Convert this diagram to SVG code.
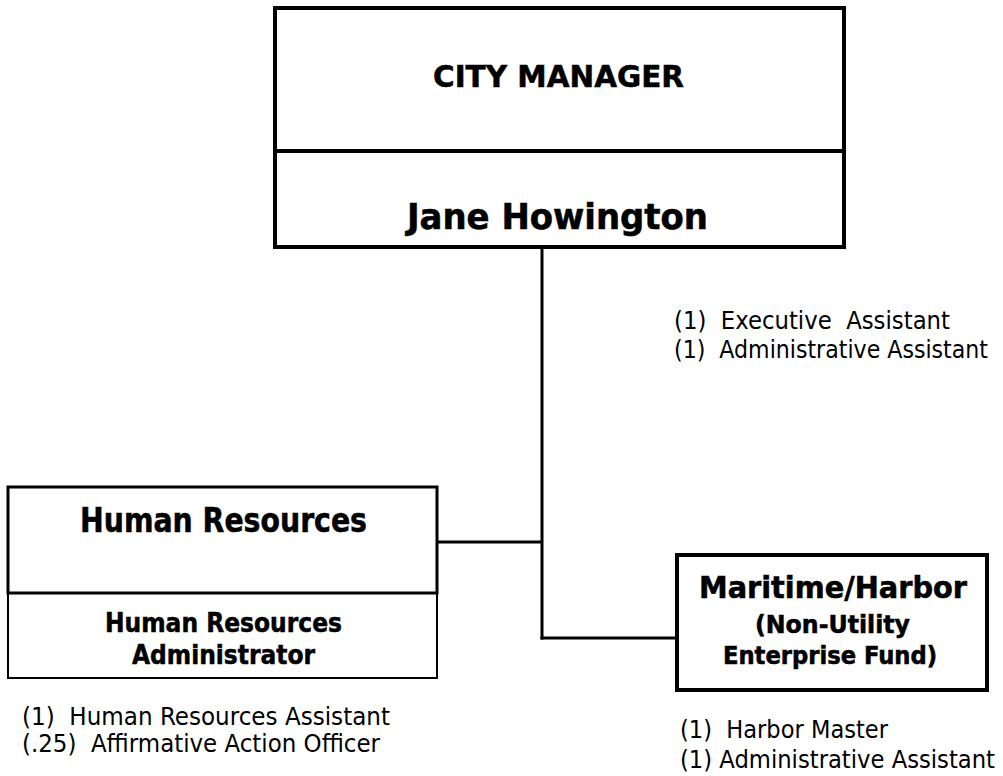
<svg xmlns="http://www.w3.org/2000/svg" width="1003" height="776" viewBox="0 0 1003 776">
<style>
  .box { fill: #fff; stroke: #000; }
  .b { font-family: "DejaVu Sans Condensed", "DejaVu Sans", "Liberation Sans", sans-serif; font-weight: bold; fill: #000; stroke: #000; stroke-width: 0.5; }
  .r { font-family: "DejaVu Sans Condensed", "DejaVu Sans", "Liberation Sans", sans-serif; font-weight: normal; fill: #000; font-size: 25px; white-space: pre; }
  .conn { stroke: #000; stroke-width: 3; fill: none; }
</style>
<rect x="0" y="0" width="1003" height="776" fill="#fff"/>
<g id="connectors">
  <line class="conn" x1="542" y1="247" x2="542" y2="639.5"/>
  <line class="conn" x1="437" y1="542" x2="542" y2="542"/>
  <line class="conn" x1="540.5" y1="638" x2="677" y2="638"/>
</g>
<g id="city-manager">
  <rect class="box" x="275" y="8" width="569" height="239" stroke-width="4"/>
  <line x1="275" y1="151" x2="844" y2="151" stroke="#000" stroke-width="4"/>
  <text class="b" x="433" y="87" font-size="31" textLength="251" lengthAdjust="spacingAndGlyphs">CITY MANAGER</text>
  <text class="b" x="407" y="229" font-size="35" textLength="301" lengthAdjust="spacingAndGlyphs">Jane Howington</text>
</g>
<g id="city-manager-staff">
  <text class="r" xml:space="preserve" x="674" y="329" textLength="276" lengthAdjust="spacingAndGlyphs">(1)  Executive  Assistant</text>
  <text class="r" xml:space="preserve" x="674" y="358" textLength="314" lengthAdjust="spacingAndGlyphs">(1)  Administrative Assistant</text>
</g>
<g id="human-resources">
  <rect class="box" x="8" y="487" width="429" height="191" stroke-width="2"/>
  <rect class="box" x="8" y="487" width="429" height="106" stroke-width="3" fill="none"/>
  <text class="b" x="80" y="532" font-size="34" textLength="287" lengthAdjust="spacingAndGlyphs">Human Resources</text>
  <text class="b" x="105" y="632" font-size="27" textLength="237" lengthAdjust="spacingAndGlyphs">Human Resources</text>
  <text class="b" x="132" y="664" font-size="27" textLength="183" lengthAdjust="spacingAndGlyphs">Administrator</text>
</g>
<g id="human-resources-staff">
  <text class="r" xml:space="preserve" x="22" y="725" textLength="368" lengthAdjust="spacingAndGlyphs">(1)  Human Resources Assistant</text>
  <text class="r" xml:space="preserve" x="22" y="752" textLength="358" lengthAdjust="spacingAndGlyphs">(.25)  Affirmative Action Officer</text>
</g>
<g id="maritime-harbor">
  <rect class="box" x="677" y="555" width="310" height="135" stroke-width="4"/>
  <text class="b" x="699" y="598" font-size="30" textLength="268" lengthAdjust="spacingAndGlyphs">Maritime/Harbor</text>
  <text class="b" x="755" y="633" font-size="24" textLength="155" lengthAdjust="spacingAndGlyphs">(Non-Utility</text>
  <text class="b" x="723" y="664" font-size="24" textLength="214" lengthAdjust="spacingAndGlyphs">Enterprise Fund)</text>
</g>
<g id="maritime-harbor-staff">
  <text class="r" xml:space="preserve" x="680" y="738" textLength="208" lengthAdjust="spacingAndGlyphs">(1)  Harbor Master</text>
  <text class="r" xml:space="preserve" x="680" y="768" textLength="315" lengthAdjust="spacingAndGlyphs">(1) Administrative Assistant</text>
</g>
</svg>
